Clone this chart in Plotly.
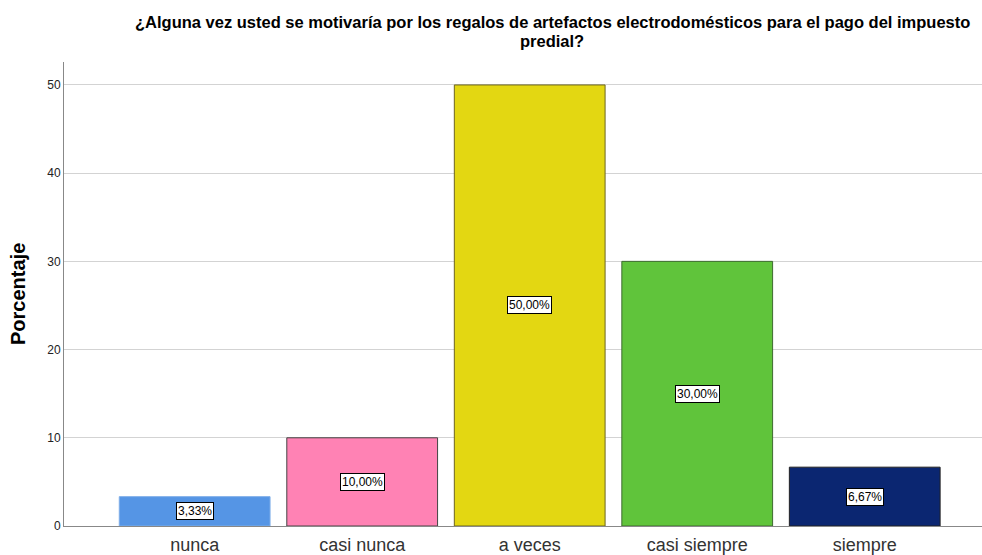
import plotly.graph_objects as go

categories = ["nunca", "casi nunca", "a veces", "casi siempre", "siempre"]
values = [3.33, 10.0, 50.0, 30.0, 6.67]
labels = ["3,33%", "10,00%", "50,00%", "30,00%", "6,67%"]
colors = ["#5595E5", "#FF82B4", "#E3D712", "#60C43B", "#0B2671"]
line_colors = ["#7FAEE8", "#444444", "#6B6420", "#3E6B30", "#222222"]
y_ticks = [0, 10, 20, 30, 40, 50]
title_lines = ["¿Alguna vez usted se motivaría por los regalos de artefactos electrodomésticos "
               "para el pago del impuesto", "predial?"]

FONT = "Liberation Sans, Arial"
PLOT_W, PLOT_H = 918, 464

fig = go.Figure()
fig.add_trace(go.Bar(
    x=categories, y=values, width=0.9,
    marker=dict(color=colors, line=dict(color=line_colors, width=1)),
    hoverinfo="skip",
))

for c, v, t in zip(categories, values, labels):
    fig.add_annotation(
        x=c, y=v / 2, text=t, showarrow=False,
        font=dict(family=FONT, size=12, color="#000000"),
        bgcolor="#FFFFFF", bordercolor="#000000", borderwidth=1, borderpad=1,
    )

fig.add_annotation(
    xref="paper", yref="paper", x=-46 / PLOT_W, y=0.5,
    xanchor="center", yanchor="middle", textangle=-90,
    text="<b>Porcentaje</b>", showarrow=False,
    font=dict(family=FONT, size=20, color="#000000"),
)

for line, ypx in zip(title_lines, [22, 41]):
    fig.add_annotation(
        xref="paper", yref="paper", x=(552 - 64) / PLOT_W, y=1 + (62 - ypx) / PLOT_H,
        xanchor="center", yanchor="middle", align="center",
        text=f"<b>{line}</b>", showarrow=False,
        font=dict(family=FONT, size=16.5, color="#000000"),
    )

fig.update_layout(
    width=982, height=555,
    margin=dict(l=64, r=0, t=62, b=29, autoexpand=False),
    paper_bgcolor="#FFFFFF", plot_bgcolor="#FFFFFF",
    showlegend=False,
    bargap=0.1,
    xaxis=dict(
        range=[-0.78, 4.70],
        showline=True, linecolor="#888888", linewidth=1,
        showgrid=False, ticks="", ticklabelstandoff=2,
        tickfont=dict(family=FONT, size=18, color="#333333"),
    ),
    yaxis=dict(
        range=[0, 52.6],
        tickvals=y_ticks,
        showline=True, linecolor="#888888", linewidth=1,
        showgrid=True, gridcolor="#D3D3D3", gridwidth=1,
        zeroline=False, ticks="",
        tickfont=dict(family=FONT, size=12, color="#222222"),
    ),
)

fig.write_html(
    "out.html",
    config={"displayModeBar": False},
    post_script="document.body.style.margin='0';document.body.style.overflow='hidden';",
)
